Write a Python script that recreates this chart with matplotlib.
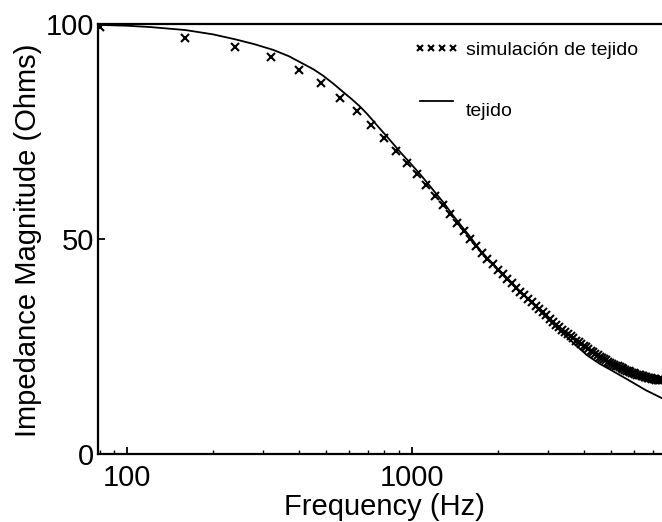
import matplotlib
matplotlib.use("Agg")
import matplotlib.pyplot as plt
from matplotlib.ticker import FixedLocator, LogLocator, NullFormatter

plt.rcParams['font.family'] = ['Liberation Sans', 'DejaVu Sans']

# simulated tissue (x markers), one point every 80 Hz
sim_freq = [80, 160, 240, 320, 400, 480, 560, 640, 720, 800,
            880, 960, 1040, 1120, 1200, 1280, 1360, 1440, 1520, 1600,
            1680, 1760, 1840, 1920, 2000, 2080, 2160, 2240, 2320, 2400,
            2480, 2560, 2640, 2720, 2800, 2880, 2960, 3040, 3120, 3200,
            3280, 3360, 3440, 3520, 3600, 3680, 3760, 3840, 3920, 4000,
            4080, 4160, 4240, 4320, 4400, 4480, 4560, 4640, 4720, 4800,
            4880, 4960, 5040, 5120, 5200, 5280, 5360, 5440, 5520, 5600,
            5680, 5760, 5840, 5920, 6000, 6080, 6160, 6240, 6320, 6400,
            6480, 6560, 6640, 6720, 6800, 6880, 6960, 7040, 7120, 7200,
            7280, 7360, 7440, 7520]
sim_mag = [99.3, 96.8, 94.6, 92.3, 89.4, 86.3, 82.9, 79.8, 76.6, 73.4,
           70.5, 67.7, 65.1, 62.6, 60.1, 57.9, 55.8, 53.8, 51.9, 50.1,
           48.4, 46.8, 45.4, 44.1, 42.9, 41.8, 40.7, 39.7, 38.7, 37.8,
           36.9, 36.1, 35.3, 34.5, 33.8, 33.1, 32.3, 31.5, 30.8, 30.1,
           29.5, 28.9, 28.4, 27.9, 27.4, 26.9, 26.4, 26.0, 25.6, 25.2,
           24.8, 24.4, 24.0, 23.7, 23.3, 23.0, 22.7, 22.4, 22.1, 21.8,
           21.5, 21.3, 21.0, 20.8, 20.6, 20.4, 20.2, 20.0, 19.8, 19.6,
           19.4, 19.25, 19.1, 18.95, 18.8, 18.65, 18.5, 18.4, 18.3, 18.2,
           18.1, 18.0, 17.9, 17.8, 17.7, 17.6, 17.5, 17.45, 17.4, 17.35,
           17.3, 17.25, 17.2, 17.15]

# measured tissue (solid line)
tis_freq = [79, 100, 120, 160, 200, 241, 280, 325, 370, 408,
            450, 487, 530, 573, 615, 657, 700, 741, 780, 822,
            865, 907, 1006, 1092, 1200, 1300, 1392, 1500, 1600, 1730,
            1900, 2085, 2260, 2446, 2650, 2880, 3200, 3670, 4110, 4560,
            5070, 5830, 6600, 7540]
tis_mag = [99.8, 99.6, 99.3, 98.6, 97.6, 96.4, 95.3, 94.0, 92.5, 91.0,
           89.5, 88.0, 86.1, 84.2, 82.5, 80.8, 78.9, 77.0, 75.3, 73.6,
           71.9, 70.3, 67.0, 64.3, 61.0, 58.2, 55.5, 52.8, 50.5, 47.5,
           44.5, 41.8, 39.4, 37.3, 35.0, 32.6, 29.6, 26.0, 23.0, 21.0,
           19.3, 17.0, 14.9, 13.0]

fig = plt.figure(figsize=(6.62, 5.22), dpi=100)
ax = fig.add_axes([0.148, 0.130, 0.852, 0.824])

sim, = ax.plot(sim_freq, sim_mag, 'x', color='black', ms=6, mew=1.5,
               label='simulación de tejido')
tis, = ax.plot(tis_freq, tis_mag, '-', color='black', lw=1.3, label='\ntejido')

ax.set_xscale('log')
ax.set_xlim(79, 7540)
ax.set_ylim(0, 100)

ax.xaxis.set_major_locator(FixedLocator([100, 1000]))
ax.set_xticklabels(['100', '1000'])
ax.xaxis.set_minor_locator(LogLocator(base=10, subs=range(2, 10)))
ax.xaxis.set_minor_formatter(NullFormatter())
ax.set_yticks([0, 50, 100])

ax.tick_params(axis='both', which='major', direction='in', length=5, width=1.3,
               labelsize=21)
ax.tick_params(axis='x', which='major', pad=7)
ax.tick_params(axis='y', which='major', pad=3)
ax.tick_params(axis='x', which='minor', direction='in', length=3, width=1)

ax.spines['right'].set_visible(False)
for s in ['left', 'bottom', 'top']:
    ax.spines[s].set_linewidth(1.6)

fig.text(28 / 662, 1 - 240 / 522, 'Impedance Magnitude (Ohms)', rotation=90,
         ha='center', va='center', fontsize=21)
fig.text(384 / 662, 1 - 507 / 522, 'Frequency (Hz)', ha='center', va='center',
         fontsize=21)

leg = ax.legend(handles=[sim, tis], loc='upper left',
                bbox_to_anchor=(0.53, 1.0), frameon=False, numpoints=4,
                markerscale=0.65, handlelength=2.3, handletextpad=0.35,
                labelspacing=1.25, fontsize=14)

fig.savefig('out.png', dpi=100)
